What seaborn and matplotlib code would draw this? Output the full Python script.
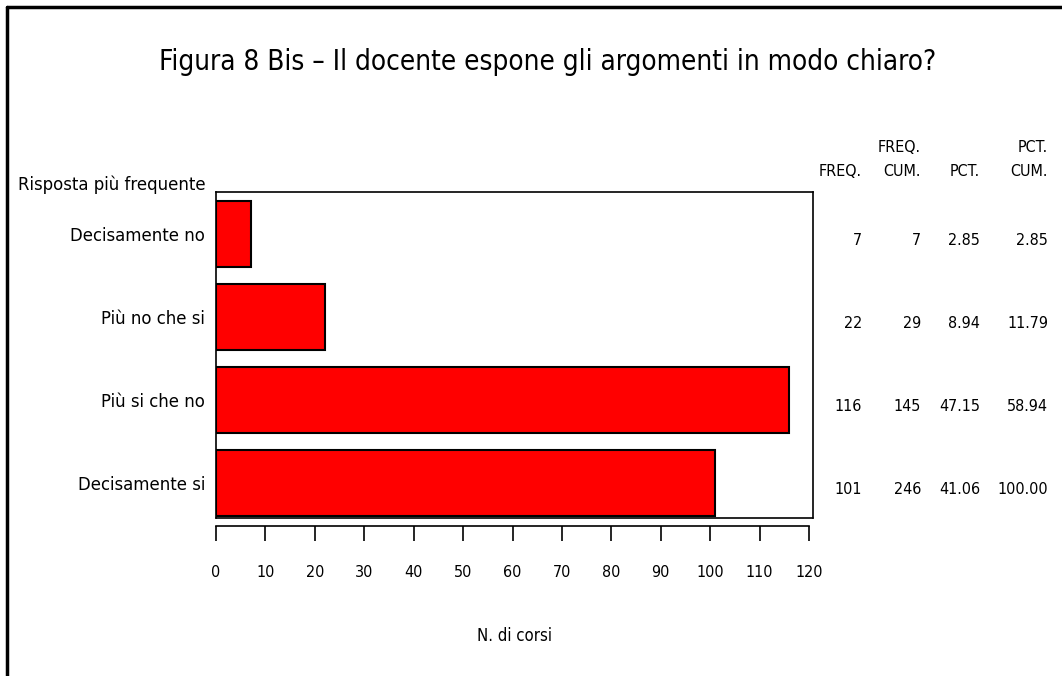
import matplotlib
matplotlib.use("Agg")
import matplotlib.pyplot as plt
import matplotlib.transforms as mtransforms
from matplotlib.lines import Line2D
import seaborn as sns
import pandas as pd

# data
risposte = ["Decisamente no", "Più no che si", "Più si che no", "Decisamente si"]
freq = [7, 22, 116, 101]
freq_cum = [7, 29, 145, 246]
pct = ["2.85", "8.94", "47.15", "41.06"]
pct_cum = ["2.85", "11.79", "58.94", "100.00"]
head_top = ["", "FREQ.", "", "PCT."]
head_bot = ["FREQ.", "CUM.", "PCT.", "CUM."]
xticks = list(range(0, 121, 10))

W, H = 1062, 676

sns.set_style("white")
plt.rcParams['font.family'] = ['DejaVu Sans']
plt.rcParams['font.stretch'] = 'condensed'
for k in ['text.color', 'axes.labelcolor', 'xtick.color', 'ytick.color']:
    plt.rcParams[k] = 'black'
fs = 13.2
fs_tab = 11.5

df = pd.DataFrame({"risposta": risposte, "freq": freq})

fig = plt.figure(figsize=(W / 100, H / 100), dpi=100)
ax = fig.add_axes([216 / W, 1 - 518 / H, (813 - 216) / W, (518 - 192) / H])

sns.barplot(data=df, x="freq", y="risposta", orient="h", color="#ff0000",
            saturation=1, width=0.8, edgecolor="black", linewidth=1.5, ax=ax)

ax.set_xlim(0, 120.8)
ax.set_ylim(3.42, -0.51)
ax.set_xticks(xticks)
ax.set_xticklabels([str(t) for t in xticks])
ax.tick_params(axis="x", bottom=True, length=11, width=1.2, pad=17,
               color="black", direction="out", labelsize=fs_tab)
ax.tick_params(axis="y", left=False, length=0, pad=8, labelsize=fs)
ax.set_ylabel("")
ax.set_xlabel("N. di corsi", fontsize=fs_tab + 0.5, labelpad=34)

for s in ["left", "top", "right"]:
    ax.spines[s].set_color("black")
    ax.spines[s].set_linewidth(1.2)
ax.spines["bottom"].set_position(("outward", 6))
ax.spines["bottom"].set_bounds(0, 120)
ax.spines["bottom"].set_color("black")
ax.spines["bottom"].set_linewidth(1.2)
ax.axhline(ax.get_ylim()[0], color="black", lw=1.2, clip_on=False)

# frequency table on the right
trans = mtransforms.blended_transform_factory(fig.transFigure, ax.transData)
col_x = [862 / W, 921 / W, 980 / W, 1048 / W]
cols = [freq, freq_cum, pct, pct_cum]
for cx, vals, ht, hb in zip(col_x, cols, head_top, head_bot):
    for i, v in enumerate(vals):
        ax.text(cx, i + 0.08, str(v), transform=trans, ha="right", va="center",
                fontsize=fs_tab, clip_on=False)
    fig.text(cx, 1 - 172 / H, hb, ha="right", va="center", fontsize=fs_tab)
    if ht:
        fig.text(cx, 1 - 147 / H, ht, ha="right", va="center", fontsize=fs_tab)

fig.text(18 / W, 1 - 185 / H, "Risposta più frequente", ha="left", va="center", fontsize=fs)

fig.text(548 / W, 1 - 70 / H, "Figura 8 Bis – Il docente espone gli argomenti in modo chiaro?",
         ha="center", va="baseline", fontsize=20, fontweight="light")

# page border (top and left only)
fig.add_artist(Line2D([7 / W, 7 / W], [0, 1 - 7 / H], color="black", lw=2.5,
                      transform=fig.transFigure))
fig.add_artist(Line2D([7 / W, 1], [1 - 7 / H, 1 - 7 / H], color="black", lw=2.5,
                      transform=fig.transFigure))

fig.savefig("out.png", dpi=100, facecolor="white")
